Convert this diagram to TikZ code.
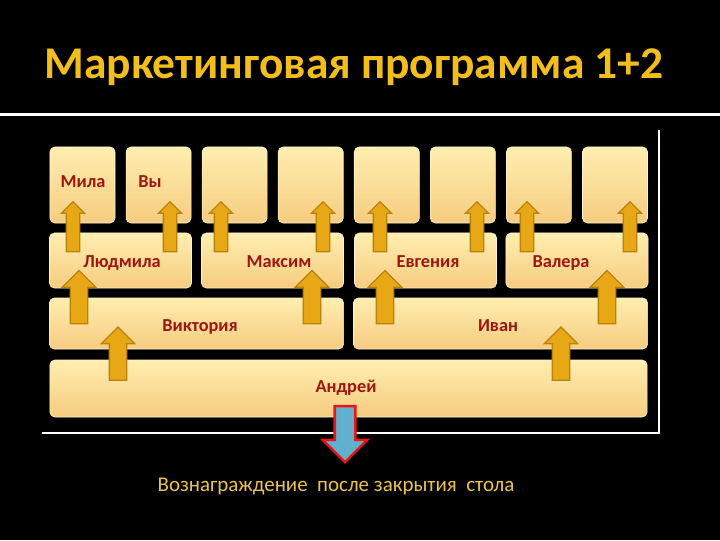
\documentclass[tikz,border=0pt]{standalone}
\usepackage{fontspec}
\setmainfont{Carlito}
\usepackage{tikz}
\usetikzlibrary{shapes.arrows}
\definecolor{MPGold}{RGB}{242,190,28}
\definecolor{MPNote}{RGB}{236,194,78}
\definecolor{MPRed}{RGB}{158,22,18}
\definecolor{MPTop}{RGB}{255,238,176}
\definecolor{MPBot}{RGB}{246,204,128}
\definecolor{MPArrow}{RGB}{232,168,22}
\definecolor{MPArrowEdge}{RGB}{185,130,12}
\definecolor{MPBlue}{RGB}{96,176,206}
\definecolor{MPAlarm}{RGB}{232,22,22}

\begin{document}
\begin{tikzpicture}[x=0.025cm, y=-0.025cm,
            cell/.style={rectangle, rounded corners=0.12cm, top color=MPTop,
                         bottom color=MPBot, draw=MPTop!60!white, line width=0.4pt,
                         inner sep=0pt},
            nm/.style={anchor=base, text=MPRed, font=\fontsize{13}{15}\selectfont\bfseries},
            up/.style={single arrow, shape border rotate=90, fill=MPArrow,
                       draw=MPArrowEdge, line width=0.9pt, inner ysep=0pt,
                       inner xsep=0.15cm, single arrow head extend=0.125cm,
                       minimum height=1.25cm},
            bigup/.style={up, inner xsep=0.2cm, single arrow head extend=0.2cm,
                          minimum height=1.33cm}
          ]
          % Background and frame
          \fill[black] (0,0) rectangle (720,540);
          \useasboundingbox (0,0) rectangle (720,540);
          \draw[white, line width=2.2pt] (0,114.5) -- (720,114.5);
          \draw[white, line width=1.2pt] (659,130) -- (659,433);
          \draw[white, line width=1.7pt] (42,433) -- (660,433);

          % Title
          \node[anchor=base, text=MPGold, font=\fontsize{32.3}{36}\selectfont\bfseries]
                (title) at (354,78) {Маркетинговая программа 1+2};

          % Top row (eight places)
          \foreach \i in {0,...,7}
            \node[cell, minimum width=1.625cm, minimum height=1.9cm]
                  (t\i) at (82.5+76.07*\i,185) {};

          % Second row
          \node[cell, minimum width=3.55cm, minimum height=1.375cm] (s0) at (120.5,260.5) {};
          \node[cell, minimum width=3.55cm, minimum height=1.375cm] (s1) at (272.5,260.5) {};
          \node[cell, minimum width=3.55cm, minimum height=1.375cm] (s2) at (425.5,260.5) {};
          \node[cell, minimum width=3.55cm, minimum height=1.375cm] (s3) at (577,260.5) {};

          % Third row
          \node[cell, minimum width=7.35cm, minimum height=1.275cm] (v0) at (196.5,323.5) {};
          \node[cell, minimum width=7.35cm, minimum height=1.275cm] (v1) at (500.5,323.5) {};

          % Bottom row
          \node[cell, minimum width=14.925cm, minimum height=1.425cm] (a0) at (348.5,388.5) {};

          % Arrows into the top row
          \foreach \x [count=\k] in {73,170,221,323,380,477,527,630}
            \node[up] (u\k) at (\x,230) {};

          % Arrows into the second row
          \foreach \x [count=\k] in {79,312,385,607}
            \node[bigup] (w\k) at (\x,301.5) {};

          % Arrows into the third row
          \node[bigup] (z1) at (118,358) {};
          \node[bigup] (z2) at (561,358) {};

          % Payout arrow
          \node[single arrow, shape border rotate=270, fill=MPBlue, draw=MPAlarm,
                line width=1.8pt, inner ysep=0pt, inner xsep=0.225cm,
                single arrow head extend=0.3cm, minimum height=1.4cm]
                (pay) at (345,429) {};

          % Names
          \node[nm] (n1) at (83,187)  {Мила};
          \node[nm] (n2) at (150,187) {Вы};
          \node[nm] (n3) at (122,267) {Людмила};
          \node[nm] (n4) at (279,267) {Максим};
          \node[nm] (n5) at (428,267) {Евгения};
          \node[nm] (n6) at (561,267) {Валера};
          \node[nm] (n7) at (200,331.5) {Виктория};
          \node[nm] (n8) at (498,331.5) {Иван};
          \node[nm] (n9) at (346,392) {Андрей};

          \node[anchor=base, text=MPNote, font=\fontsize{14.9}{17}\selectfont]
                (note) at (336,491) {Вознаграждение\ \ после закрытия\ \ стола};
        \end{tikzpicture}
\end{document}
